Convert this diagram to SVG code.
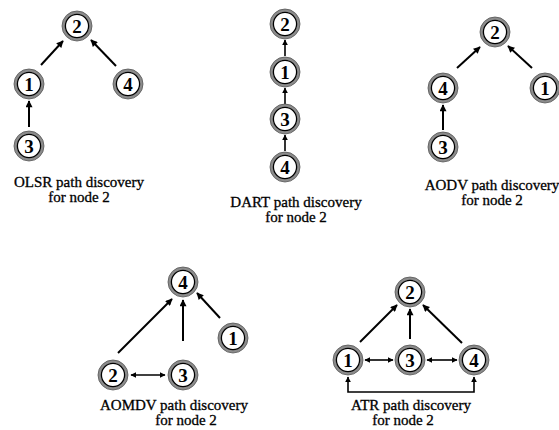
<svg xmlns="http://www.w3.org/2000/svg" width="559" height="430" viewBox="0 0 559 430">
<defs>
<style>
.ring{fill:#fff;stroke:#8c8c8c;stroke-width:3}
.outer{fill:none;stroke:#555;stroke-width:0.8}
.inner{fill:none;stroke:#000;stroke-width:1.3}
.num{font-family:"Liberation Serif","Times New Roman",serif;font-weight:bold;font-size:19px;text-anchor:middle;fill:#000}
.lbl{font-family:"Liberation Serif","Times New Roman",serif;font-weight:normal;font-size:15px;text-anchor:middle;fill:#000;stroke:#000;stroke-width:0.3}
.e{fill:none;stroke:#000;stroke-width:2}
.es{fill:none;stroke:#000;stroke-width:1.6}
</style>
<marker id="ah" viewBox="0 0 10 10" refX="9" refY="5" markerWidth="8" markerHeight="7" markerUnits="userSpaceOnUse" orient="auto-start-reverse"><path d="M0,0 L10,5 L0,10 z" fill="#000"/></marker>
<marker id="ahs" viewBox="0 0 10 10" refX="9" refY="5" markerWidth="6" markerHeight="6" markerUnits="userSpaceOnUse" orient="auto-start-reverse"><path d="M0,0 L10,5 L0,10 z" fill="#000"/></marker>
<g id="node"><circle class="ring" r="13.5"/><circle class="outer" r="15"/><circle class="inner" r="11.6"/></g>
</defs>
<rect width="559" height="430" fill="#fff"/>

<g id="connectors">
<!-- OLSR -->
<line class="e" x1="41" y1="65" x2="63" y2="41" marker-end="url(#ah)"/>
<line class="e" x1="116" y1="66" x2="91" y2="40" marker-end="url(#ah)"/>
<line class="e" x1="29" y1="127" x2="29" y2="101" marker-end="url(#ah)"/>
<!-- DART -->
<line class="es" x1="285" y1="56" x2="285" y2="40" marker-end="url(#ahs)"/>
<line class="es" x1="285" y1="104" x2="285" y2="88" marker-end="url(#ahs)"/>
<line class="es" x1="285" y1="151" x2="285" y2="135" marker-end="url(#ahs)"/>
<!-- AODV -->
<line class="e" x1="457" y1="68" x2="480" y2="47" marker-end="url(#ah)"/>
<line class="e" x1="532" y1="68" x2="508" y2="46" marker-end="url(#ah)"/>
<line class="e" x1="443" y1="130" x2="443" y2="105" marker-end="url(#ah)"/>
<!-- AOMDV -->
<line class="e" x1="118" y1="353" x2="172" y2="299" marker-end="url(#ah)"/>
<line class="e" x1="183" y1="341" x2="183" y2="300" marker-end="url(#ah)"/>
<line class="e" x1="220" y1="318" x2="197" y2="293" marker-end="url(#ah)"/>
<line class="es" x1="131" y1="375" x2="165" y2="375" marker-start="url(#ahs)" marker-end="url(#ahs)"/>
<!-- ATR -->
<line class="e" x1="360" y1="342" x2="397" y2="305" marker-end="url(#ah)"/>
<line class="e" x1="410" y1="339" x2="410" y2="309" marker-end="url(#ah)"/>
<line class="e" x1="462" y1="343" x2="423" y2="305" marker-end="url(#ah)"/>
<line class="es" x1="365" y1="360" x2="393" y2="360" marker-start="url(#ahs)" marker-end="url(#ahs)"/>
<line class="es" x1="427" y1="360" x2="457" y2="360" marker-start="url(#ahs)" marker-end="url(#ahs)"/>
<polyline class="es" points="348,377 348,392 474,392 474,377" marker-start="url(#ahs)" marker-end="url(#ahs)"/>
</g>

<g id="olsr">
<g id="olsr-2"><use href="#node" x="77" y="26"/><text class="num" x="77" y="33">2</text></g>
<g id="olsr-1"><use href="#node" x="29" y="84"/><text class="num" x="29" y="91">1</text></g>
<g id="olsr-4"><use href="#node" x="128" y="84"/><text class="num" x="128" y="91">4</text></g>
<g id="olsr-3"><use href="#node" x="29" y="146"/><text class="num" x="29" y="153">3</text></g>
<text class="lbl" x="79" y="187">OLSR path discovery</text>
<text class="lbl" x="79" y="202">for node 2</text>
</g>

<g id="dart">
<g id="dart-2"><use href="#node" x="285" y="24"/><text class="num" x="285" y="31">2</text></g>
<g id="dart-1"><use href="#node" x="285" y="72"/><text class="num" x="285" y="79">1</text></g>
<g id="dart-3"><use href="#node" x="285" y="119"/><text class="num" x="285" y="126">3</text></g>
<g id="dart-4"><use href="#node" x="285" y="167"/><text class="num" x="285" y="174">4</text></g>
<text class="lbl" x="296" y="207">DART path discovery</text>
<text class="lbl" x="296" y="222">for node 2</text>
</g>

<g id="aodv">
<g id="aodv-2"><use href="#node" x="495" y="32"/><text class="num" x="495" y="39">2</text></g>
<g id="aodv-4"><use href="#node" x="443" y="88"/><text class="num" x="443" y="95">4</text></g>
<g id="aodv-1"><use href="#node" x="545" y="88"/><text class="num" x="545" y="95">1</text></g>
<g id="aodv-3"><use href="#node" x="443" y="147"/><text class="num" x="443" y="154">3</text></g>
<text class="lbl" x="492" y="190">AODV path discovery</text>
<text class="lbl" x="492" y="205">for node 2</text>
</g>

<g id="aomdv">
<g id="aomdv-4"><use href="#node" x="183" y="282"/><text class="num" x="183" y="289">4</text></g>
<g id="aomdv-1"><use href="#node" x="233" y="338"/><text class="num" x="233" y="345">1</text></g>
<g id="aomdv-2"><use href="#node" x="113" y="375"/><text class="num" x="113" y="382">2</text></g>
<g id="aomdv-3"><use href="#node" x="183" y="375"/><text class="num" x="183" y="382">3</text></g>
<text class="lbl" x="174" y="410">AOMDV path discovery</text>
<text class="lbl" x="186" y="425">for node 2</text>
</g>

<g id="atr">
<g id="atr-2"><use href="#node" x="410" y="292"/><text class="num" x="410" y="299">2</text></g>
<g id="atr-1"><use href="#node" x="348" y="360"/><text class="num" x="348" y="367">1</text></g>
<g id="atr-3"><use href="#node" x="410" y="360"/><text class="num" x="410" y="367">3</text></g>
<g id="atr-4"><use href="#node" x="474" y="360"/><text class="num" x="474" y="367">4</text></g>
<text class="lbl" x="411" y="410">ATR path discovery</text>
<text class="lbl" x="403" y="425">for node 2</text>
</g>
</svg>
